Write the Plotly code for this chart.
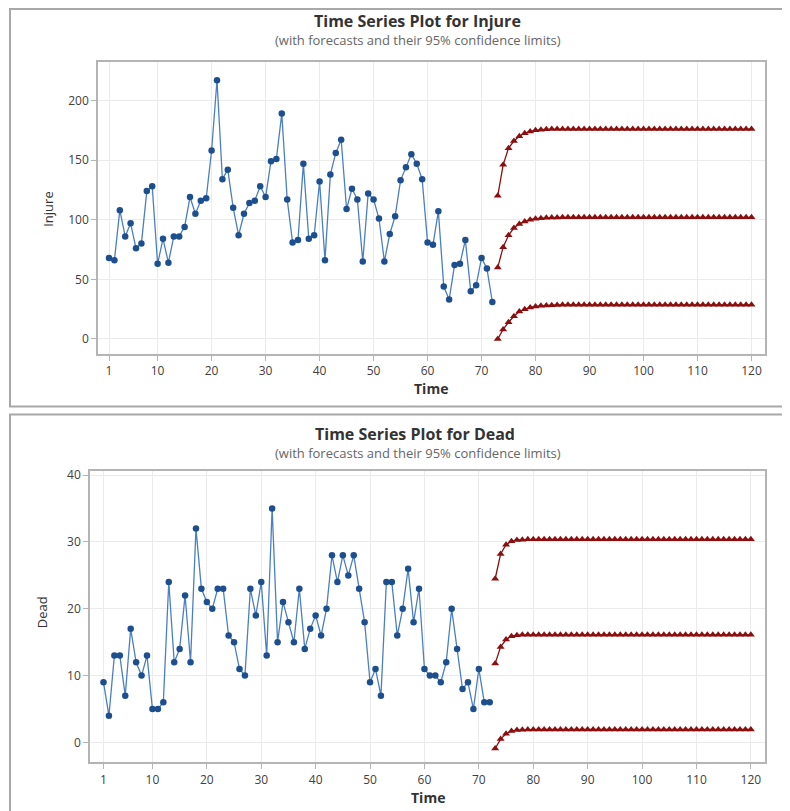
import plotly.graph_objects as go

# ---------------- data ----------------
time_obs = list(range(1, 73))
time_fc = list(range(73, 121))

injure = [68, 66, 108, 86, 97, 76, 80, 124, 128, 63,
          84, 64, 86, 86, 94, 119, 105, 116, 118, 158,
          217, 134, 142, 110, 87, 105, 114, 116, 128, 119,
          149, 151, 189, 117, 81, 83, 147, 84, 87, 132,
          66, 138, 156, 167, 109, 126, 117, 65, 122, 117,
          101, 65, 88, 103, 133, 144, 155, 147, 134, 81,
          79, 107, 44, 33, 62, 63, 83, 40, 45, 68,
          59, 31]

injure_fc = [60, 77, 87, 93, 96.5, 98.5, 100, 100.8, 101.3, 101.6,
             101.8, 101.9] + [102] * 36
injure_up = [120, 146, 160, 166, 170, 172.5, 174, 175, 175.5, 175.8,
             176, 176] + [176] * 36
injure_lo = [0, 8, 14, 19, 23, 25, 26.5, 27.3, 27.8, 28.1,
             28.3, 28.5] + [28.6] * 36

dead = [9, 4, 13, 13, 7, 17, 12, 10, 13, 5,
        5, 6, 24, 12, 14, 22, 12, 32, 23, 21,
        20, 23, 23, 16, 15, 11, 10, 23, 19, 24,
        13, 35, 15, 21, 18, 15, 23, 14, 17, 19,
        16, 20, 28, 24, 28, 25, 28, 23, 18, 9,
        11, 7, 24, 24, 16, 20, 26, 18, 23, 11,
        10, 10, 9, 12, 20, 14, 8, 9, 5, 11,
        6, 6]

dead_fc = [11.8, 14.3, 15.4, 15.9, 16.05, 16.1] + [16.1] * 42
dead_up = [24.5, 28.2, 29.6, 30.1, 30.3, 30.35] + [30.4] * 42
dead_lo = [-0.9, 0.5, 1.3, 1.7, 1.85, 1.9] + [1.95] * 42

x_ticks = [1, 10, 20, 30, 40, 50, 60, 70, 80, 90, 100, 110, 120]
injure_ticks = [0, 50, 100, 150, 200]
dead_ticks = [0, 10, 20, 30, 40]

# ---------------- style ----------------
FONT = "Open Sans, Noto Sans, DejaVu Sans, sans-serif"
BLUE_LINE = "#4a7fc2"
BLUE_MARK = "#1d4f8f"
RED = "#8b0f0f"
GRID = "#ebebeb"
AXIS = "#b4b4b4"
TXT = "#404040"

W, H = 790, 811
OFF = 8  # page body margin

def px_x(x):
    return (x - OFF) / W

def px_y(y):
    return 1 - (y - OFF) / H

fig = go.Figure()

def add_panel(xa, ya, obs, fc, up, lo):
    fig.add_trace(go.Scatter(
        x=time_obs, y=obs, mode="lines+markers", xaxis=xa, yaxis=ya,
        line=dict(color=BLUE_LINE, width=1.3),
        marker=dict(symbol="circle", size=6.5, color=BLUE_MARK),
        showlegend=False, hoverinfo="x+y"))
    for s in (up, fc, lo):
        fig.add_trace(go.Scatter(
            x=time_fc, y=s, mode="lines+markers", xaxis=xa, yaxis=ya,
            line=dict(color=RED, width=1.3),
            marker=dict(symbol="triangle-up", size=7, color=RED),
            showlegend=False, hoverinfo="x+y"))

add_panel("x", "y", injure, injure_fc, injure_up, injure_lo)
add_panel("x2", "y2", dead, dead_fc, dead_up, dead_lo)

axis_common = dict(
    showgrid=True, gridcolor=GRID, gridwidth=1,
    zeroline=False, showline=True, linecolor=AXIS, linewidth=1.5,
    mirror=True, ticks="outside", ticklen=5, tickcolor=AXIS,
    tickfont=dict(family=FONT, size=12, color=TXT),
    fixedrange=True,
)

fig.update_layout(
    width=W, height=H, autosize=False,
    margin=dict(l=0, r=0, t=0, b=0),
    paper_bgcolor="white", plot_bgcolor="white",
    xaxis=dict(axis_common, domain=[px_x(98), px_x(765)], range=[-1.04, 122.5],
               tickmode="array", tickvals=x_ticks, anchor="y"),
    yaxis=dict(axis_common, domain=[px_y(351), px_y(57)], range=[-12.5, 232.5],
               tickmode="array", tickvals=injure_ticks, anchor="x"),
    xaxis2=dict(axis_common, domain=[px_x(90), px_x(765)], range=[-1.48, 122.6],
                tickmode="array", tickvals=x_ticks, anchor="y2"),
    yaxis2=dict(axis_common, domain=[px_y(762), px_y(469)], range=[-2.98, 40.6],
                tickmode="array", tickvals=dead_ticks, anchor="x2"),
)

# panel frames
for (x0, y0, x1, y1) in [(10, 4, 785, 404), (10, 412, 785, 818)]:
    fig.add_shape(type="rect", xref="paper", yref="paper",
                  x0=px_x(x0), x1=px_x(x1), y0=px_y(y1), y1=px_y(y0),
                  line=dict(color="#a8a8a8", width=2), fillcolor="rgba(0,0,0,0)",
                  layer="below")

def ann(text, x, y, size, color, bold=False, angle=0):
    fig.add_annotation(
        text=("<b>%s</b>" % text) if bold else text,
        xref="paper", yref="paper", x=px_x(x), y=px_y(y),
        xanchor="center", yanchor="middle", showarrow=False, textangle=angle,
        font=dict(family=FONT, size=size, color=color))

ann("Time Series Plot for Injure", 417, 16, 16, "#333333", bold=True)
ann("(with forecasts and their 95% confidence limits)", 418, 35, 13, "#666666")
ann("Time", 431, 386, 14, "#333333", bold=True)
ann("Injure", 48, 206, 13, "#333333", angle=-90)

ann("Time Series Plot for Dead", 415, 432, 16, "#333333", bold=True)
ann("(with forecasts and their 95% confidence limits)", 418, 451, 13, "#666666")
ann("Time", 428, 797, 14, "#333333", bold=True)
ann("Dead", 42, 611, 13, "#333333", angle=-90)

fig.write_html("out.html")
